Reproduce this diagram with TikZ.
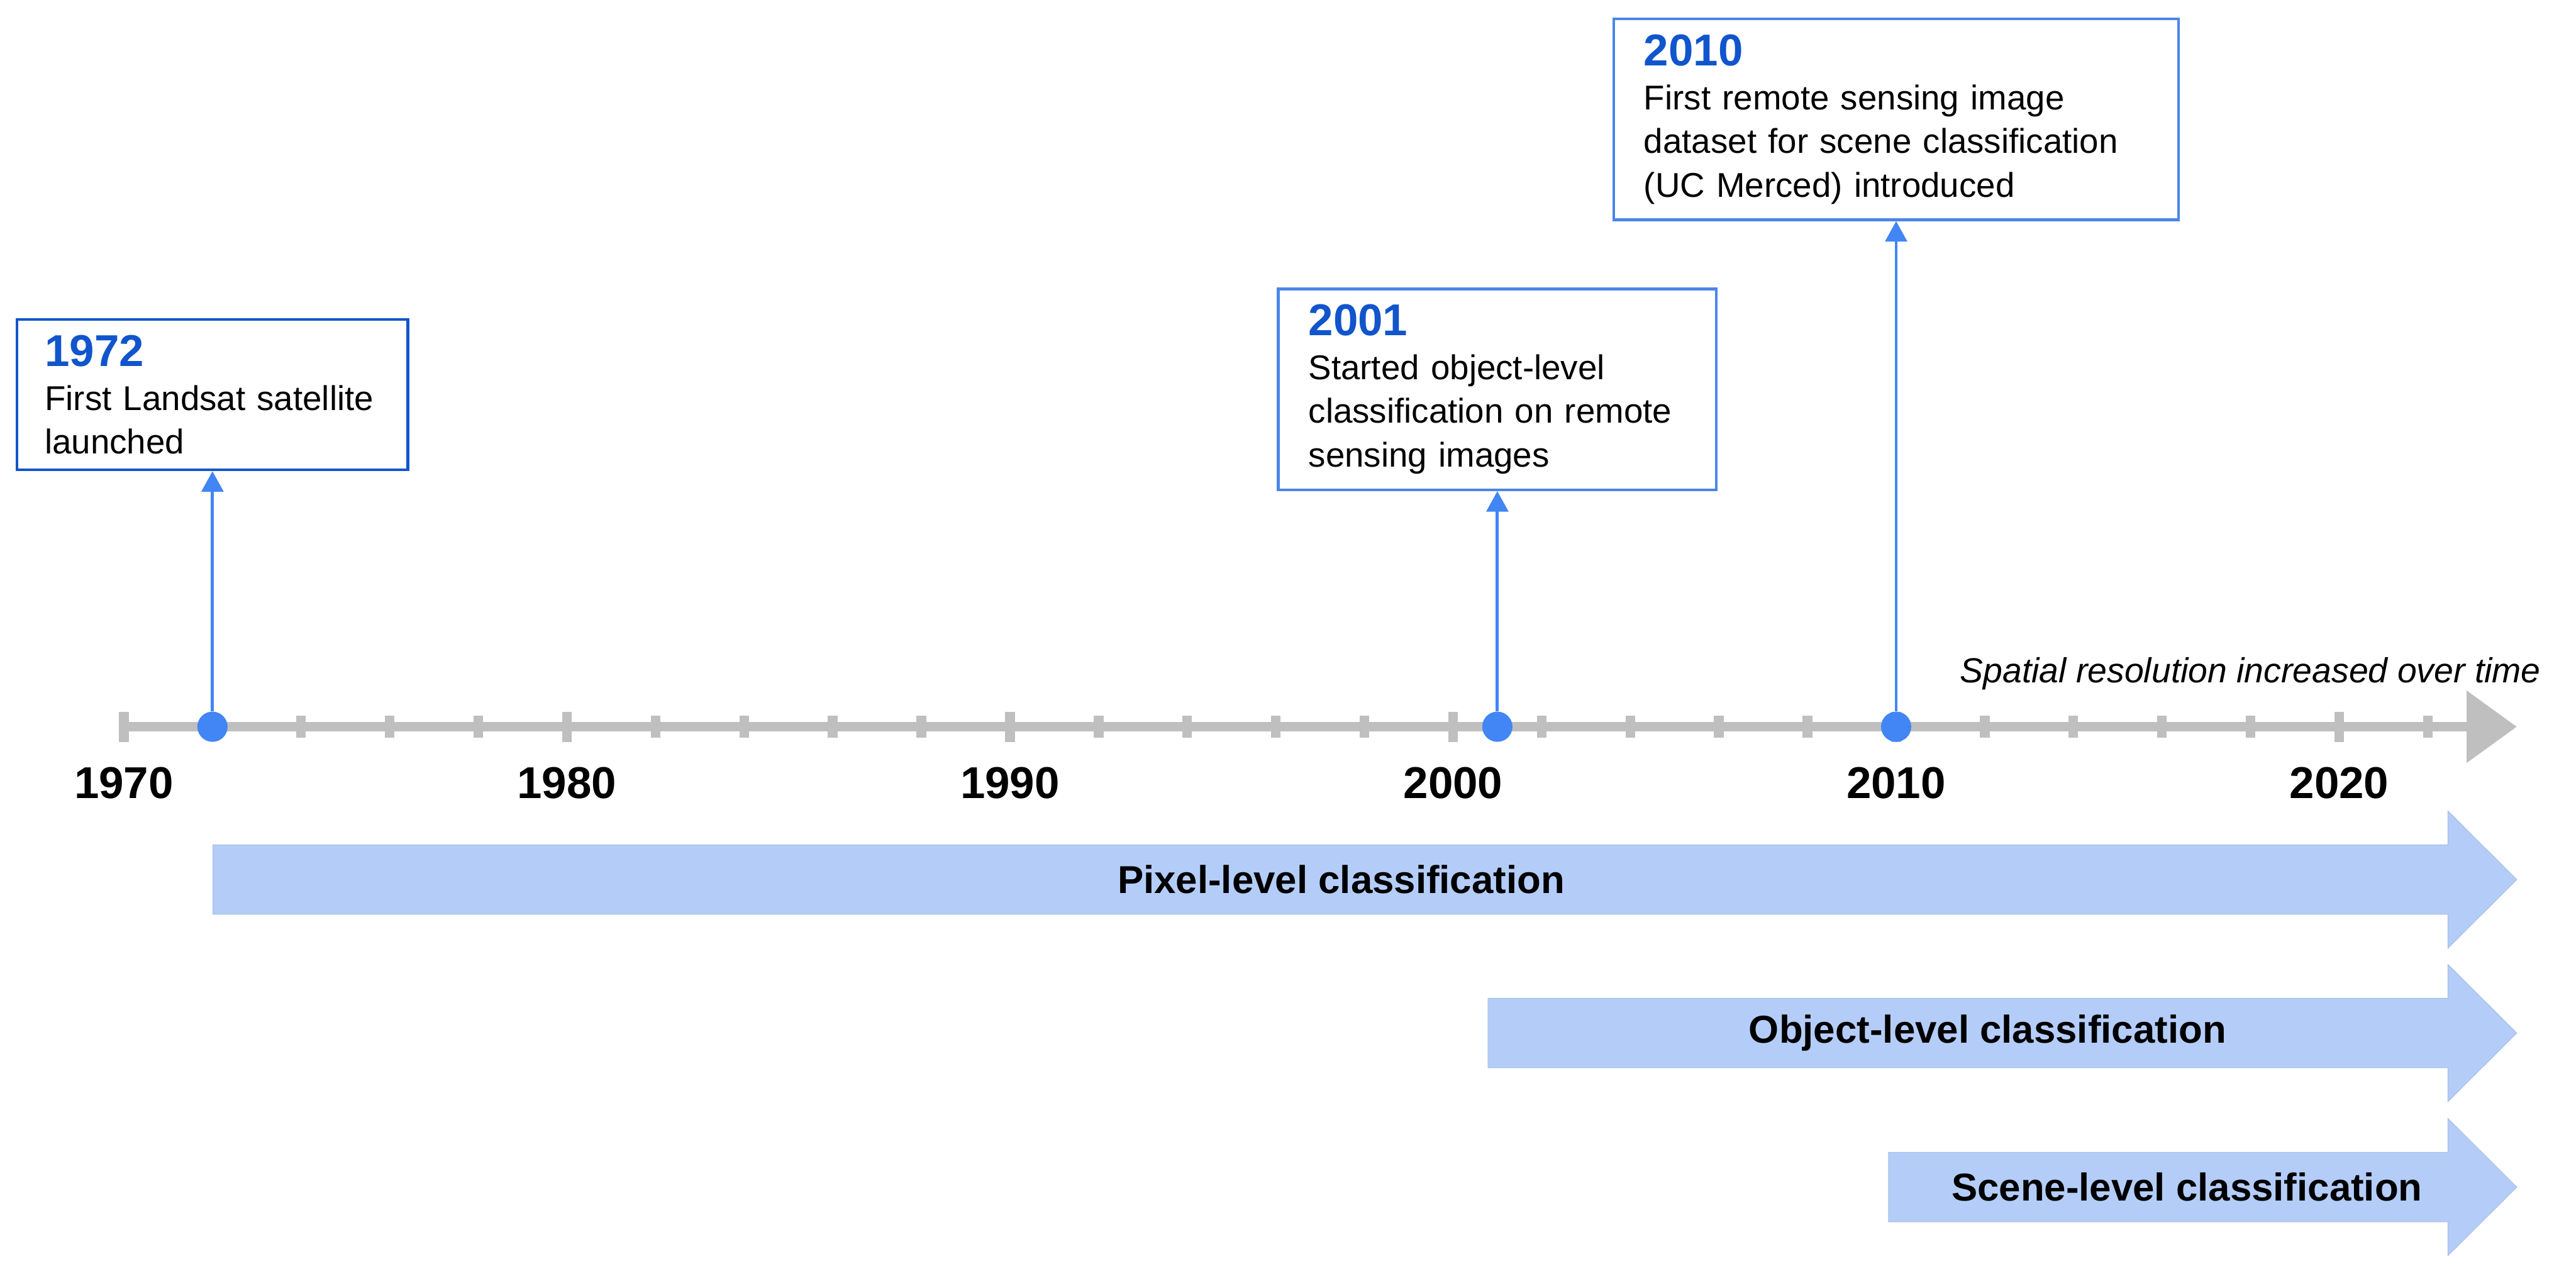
\documentclass[tikz,border=0pt]{standalone}
\usepackage{fontspec}
\setmainfont{Liberation Sans}
\usepackage{xcolor}
\usetikzlibrary{arrows.meta,positioning}
\definecolor{axisc}{RGB}{191,191,191}
\definecolor{dotc}{RGB}{66,133,244}
\definecolor{darkc}{RGB}{17,85,204}
\definecolor{boxc}{RGB}{74,134,232}
\definecolor{barc}{RGB}{180,205,248}
\definecolor{baredge}{RGB}{165,188,225}
\newcommand{\evtyear}[1]{{\fontsize{21}{20.6}\selectfont\bfseries\color{darkc}#1}}

\begin{document}
\begin{tikzpicture}[
    yearlbl/.style={font=\fontsize{21}{24}\selectfont\bfseries, anchor=base},
    evtdot/.style={circle, fill=dotc, minimum size=5mm, inner sep=0pt},
    evtbox/.style={draw=boxc, line width=0.45mm, fill=white, align=left, anchor=south,
      inner xsep=5mm, inner ysep=2.6mm, font=\fontsize{16.2}{20.6}\selectfont},
    evtline/.style={draw=dotc, line width=0.5mm, -{Triangle[length=3.4mm,width=3.6mm]}},
    barlbl/.style={font=\fontsize{18.3}{22}\selectfont\bfseries},
    levelbar/.style={fill=barc, draw=baredge, line width=0.1mm}]
  \useasboundingbox (0,0) rectangle (42.64,21.12);
  % time axis
  \draw[line width=1.5mm, axisc, -{Triangle[length=8.3mm,width=11.6mm]}] (1.97,9.09) -- (41.66,9.09);
  \foreach \yr in {1970,1972,...,2022} {
    \pgfmathsetmacro{\tx}{2.05+(\yr-1970)*0.7334}
    \pgfmathsetmacro{\th}{ifthenelse(mod(\yr,10)==0,0.25,0.185)}
    \fill[axisc] (\tx-0.08,9.09-\th) rectangle (\tx+0.08,9.09+\th);
  }
  \foreach \yr in {1970,1980,...,2020} {
    \node[yearlbl] (y\yr) at ({2.05+(\yr-1970)*0.7334},7.90) {\yr};
  }
  \node[font=\fontsize{16.4}{20}\selectfont\itshape, anchor=base east] (trend) at (42.18,9.82) {Spatial resolution increased over time};
  % events
  \node[evtdot] (d1972) at (3.517,9.09) {};
  \node[evtdot] (d2001) at (24.785,9.09) {};
  \node[evtdot] (d2010) at (31.386,9.09) {};
  \node[evtbox, draw=darkc, inner xsep=4.6mm, text width=5.55cm] (b1972) at (3.517,13.32)
    {\evtyear{1972}\\First Landsat satellite\\launched};
  \node[evtbox, text width=6.25cm] (b2001) at (24.785,12.99)
    {\evtyear{2001}\\Started object-level\\classification on remote\\sensing images};
  \node[evtbox, text width=8.35cm] (b2010) at (31.386,17.46)
    {\evtyear{2010}\\First remote sensing image\\dataset for scene classification\\(UC Merced) introduced};
  \draw[evtline] (d1972) -- (b1972);
  \draw[evtline] (d2001) -- (b2001);
  \draw[evtline] (d2010) -- (b2010);
  % classification levels
  \foreach \x/\c in {3.525/6.56, 24.63/4.02, 31.26/1.47} {
    \filldraw[levelbar] (\x,\c-0.575) -- (40.52,\c-0.575) -- (40.52,\c-1.135) -- (41.66,\c)
      -- (40.52,\c+1.135) -- (40.52,\c+0.575) -- (\x,\c+0.575) -- cycle;
  }
  \node[barlbl] (pixlbl) at (22.2,6.56) {Pixel-level classification};
  \node[barlbl] (objlbl) at (32.9,4.02) {Object-level classification};
  \node[barlbl] (scnlbl) at (36.2,1.47) {Scene-level classification};
\end{tikzpicture}
\end{document}
